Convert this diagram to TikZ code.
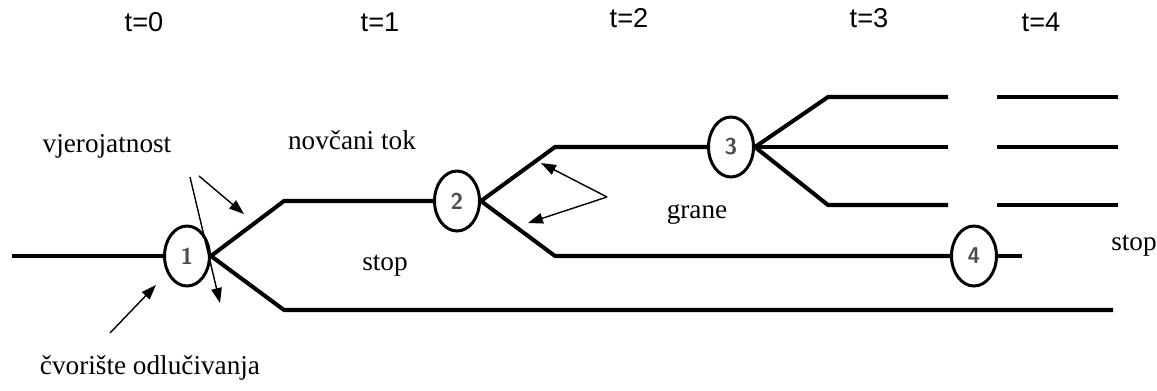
\documentclass[tikz,border=0pt]{standalone}
\usepackage{fontspec}
\setmainfont{Liberation Serif}
\newfontfamily\tfont{Liberation Sans}
\usepackage{tikz}
\usetikzlibrary{shapes.geometric, arrows.meta}

\tikzset{
  branch/.style={line width=2.3pt},
  dnode/.style={ellipse, draw, line width=1.7pt, minimum width=0.9cm, minimum height=1.2cm,
                inner sep=0pt, font=\sffamily\bfseries\fontsize{13}{15}\selectfont, text=black!70, fill=white},
  pointer/.style={line width=0.8pt, -{Triangle[length=8.5pt, width=6pt]}},
  lbl/.style={font=\fontsize{15.5}{18}\selectfont},
  tlbl/.style={font=\tfont\fontsize{15.5}{18}\selectfont}
}

\begin{document}
\begin{tikzpicture}[x=0.02cm, y=-0.02cm]
    \useasboundingbox (0,0) rectangle (1157,390);

    % TOP: time axis
    \node[tlbl] (t0) at (144,22) {t=0};
    \node[tlbl] (t1) at (380,22) {t=1};
    \node[tlbl] (t2) at (629,18) {t=2};
    \node[tlbl] (t3) at (869,18) {t=3};
    \node[tlbl] (t4) at (1041,22) {t=4};

    % Decision nodes
    \node[dnode] (n1) at (187,256) {1};
    \node[dnode] (n2) at (457,201) {2};
    \node[dnode] (n3) at (731,147) {3};
    \node[dnode] (n4) at (974,256) {4};

    % Kinks and ends of the branches
    \coordinate (s0) at (12,256);
    \coordinate (k1u) at (284,201);
    \coordinate (k1d) at (284,310);
    \coordinate (e1d) at (1113,310);
    \coordinate (k2u) at (555,147);
    \coordinate (k2d) at (555,256);
    \coordinate (k3u) at (828,97);
    \coordinate (k3d) at (828,205);
    \coordinate (e3u) at (948,97);
    \coordinate (e3m) at (948,147);
    \coordinate (e3d) at (948,205);
    \coordinate (e4) at (1022,256);

    % The tree
    \draw[branch] (s0) -- (n1.west);
    \draw[branch] (n1.east) -- (k1u) -- (n2.west);
    \draw[branch] (n1.east) -- (k1d) -- (e1d);
    \draw[branch] (n2.east) -- (k2u) -- (n3.west);
    \draw[branch] (n2.east) -- (k2d) -- (n4.west);
    \draw[branch] (n3.east) -- (k3u) -- (e3u);
    \draw[branch] (n3.east) -- (e3m);
    \draw[branch] (n3.east) -- (k3d) -- (e3d);
    \draw[branch] (n4.east) -- (e4);
    % Continued branches at t=4
    \foreach \yy/\nm in {97/a, 147/b, 205/c} {
        \coordinate (c\nm) at (997,\yy);
        \coordinate (d\nm) at (1118,\yy);
        \draw[branch] (c\nm) -- (d\nm);
    }

    % Labels
    \node[lbl] (vj) at (107,146) {vjerojatnost};
    \node[lbl] (nt) at (352,140) {novčani tok};
    \node[lbl] (st1) at (385,266) {stop};
    \node[lbl] (gr) at (697,214) {grane};
    \node[lbl] (st2) at (1134,246) {stop};
    \node[lbl] (co) at (150,368) {čvorište odlučivanja};

    % Annotation arrows
    \coordinate (va) at (190,177);
    \coordinate (vb) at (199,176);
    \coordinate (pa) at (220,303);
    \coordinate (pb) at (244,214);
    \coordinate (ga) at (607,197);
    \coordinate (gu) at (541,163);
    \coordinate (gd) at (528,223);
    \coordinate (ca) at (110,333);
    \coordinate (cb) at (156,285);
    \draw[pointer] (va) -- (pa);
    \draw[pointer] (vb) -- (pb);
    \draw[pointer] (ga) -- (gu);
    \draw[pointer] (ga) -- (gd);
    \draw[pointer] (ca) -- (cb);
\end{tikzpicture}
\end{document}
